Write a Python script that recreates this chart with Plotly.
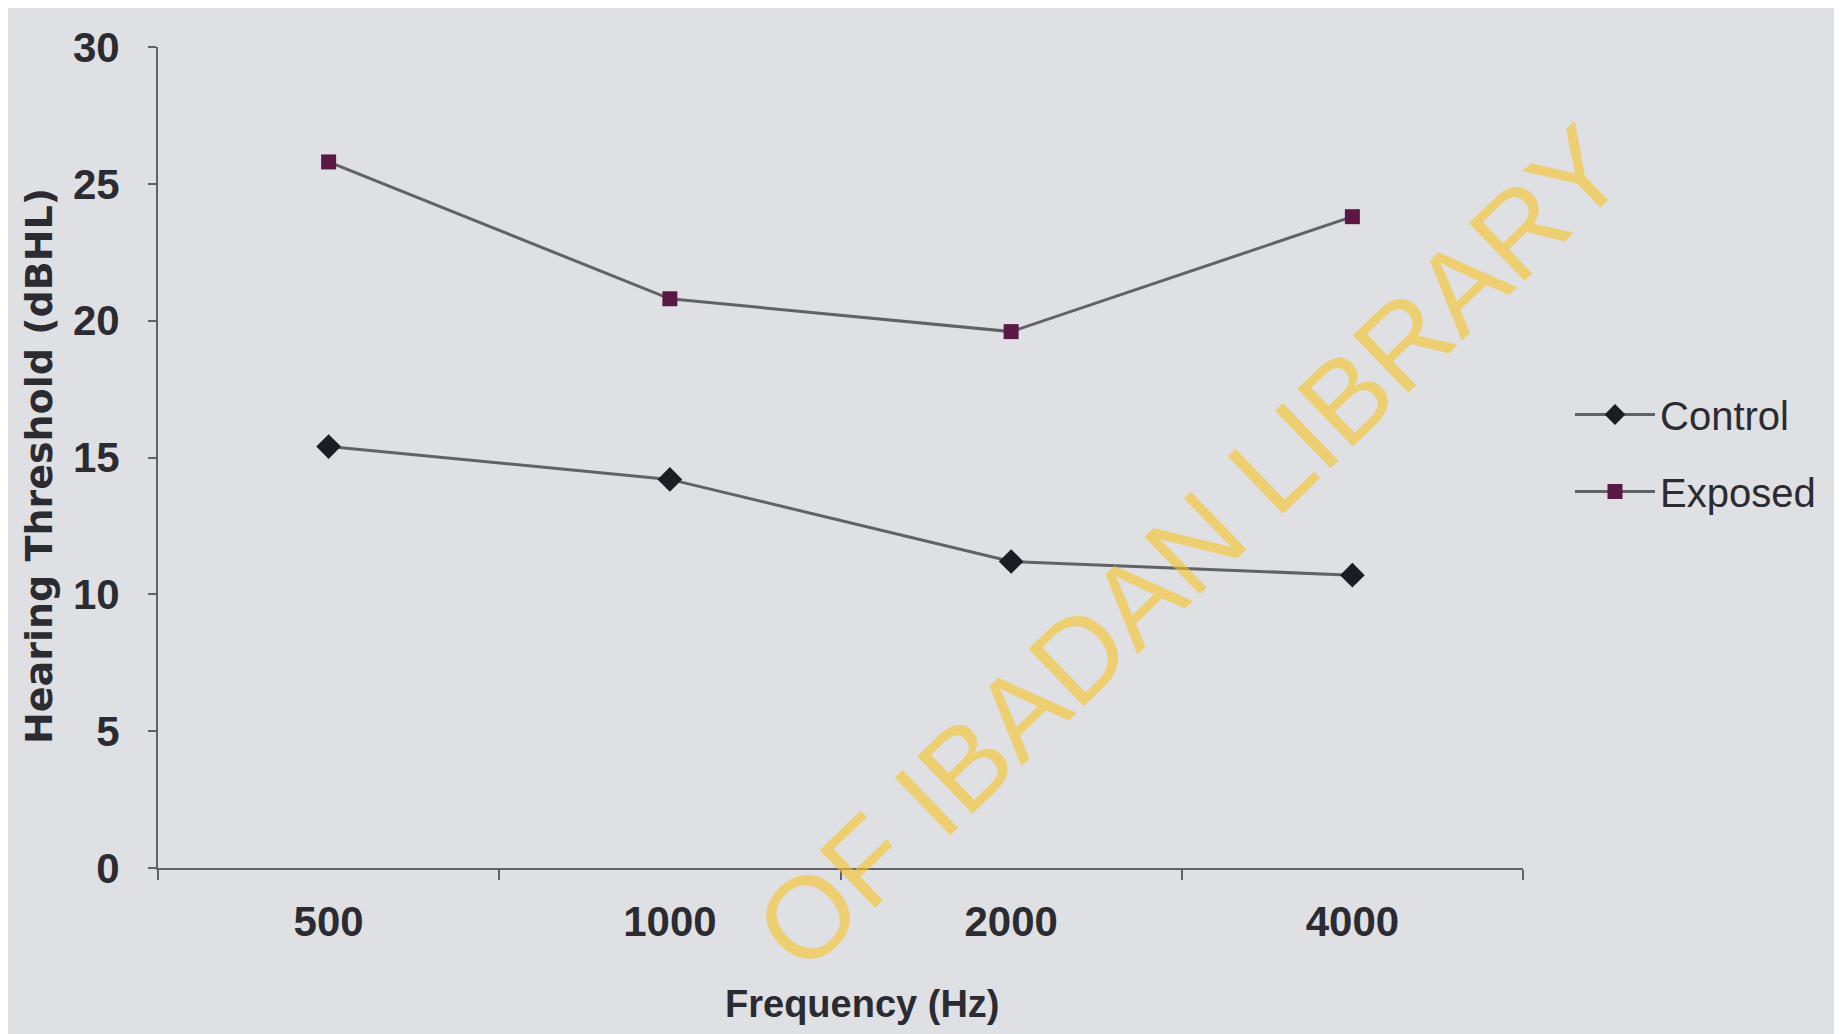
import plotly.graph_objects as go

frequencies = ["500", "1000", "2000", "4000"]
control = [15.4, 14.2, 11.2, 10.7]
exposed = [25.8, 20.8, 19.6, 23.8]
y_ticks = [0, 5, 10, 15, 20, 25, 30]

SANS = "Liberation Sans, Arial, sans-serif"
TXT = "#2b2b31"
LINE = "#626266"

L, R, T, B = 150, 327, 39, 174
PW, PH = 1842 - L - R, 1034 - T - B


def px(x):
    return (x - L) / PW


def py(y):
    return (1034 - B - y) / PH


fig = go.Figure()
fig.add_trace(go.Scatter(
    x=frequencies, y=control, name="Control", mode="lines+markers",
    line=dict(color=LINE, width=3),
    marker=dict(symbol="diamond", size=19, color="#1b1c24"),
    legendgroup="c",
))
fig.add_trace(go.Scatter(
    x=frequencies, y=exposed, name="Exposed", mode="lines+markers",
    line=dict(color=LINE, width=3),
    marker=dict(symbol="square", size=15, color="#5c1845"),
    legendgroup="e",
))

fig.update_layout(
    width=1842, height=1034,
    paper_bgcolor="#dfe0e3", plot_bgcolor="#dfe0e3",
    margin=dict(l=L, r=R, t=T, b=B),
    showlegend=True,
    legend=dict(x=px(1562), y=py(374), xanchor="left", yanchor="top",
                font=dict(family=SANS, size=40, color=TXT),
                itemwidth=80,
                tracegroupgap=22, bgcolor="rgba(0,0,0,0)"),
    font=dict(family=SANS, color=TXT),
)
fig.update_xaxes(
    type="category", range=[-0.5, 3.5], tickson="boundaries",
    showline=True, linecolor=LINE, linewidth=2,
    ticks="outside", ticklen=10, tickcolor=LINE, tickwidth=2,
    showgrid=False, zeroline=False,
    tickfont=dict(family=SANS, size=42, color=TXT, weight="bold"),
    ticklabelstandoff=16,
)
fig.update_yaxes(
    range=[0, 30], tickvals=y_ticks, ticktext=[str(v) for v in y_ticks],
    showline=True, linecolor=LINE, linewidth=2,
    ticks="outside", ticklen=8, tickcolor=LINE, tickwidth=2,
    showgrid=False, zeroline=False,
    tickfont=dict(family=SANS, size=42, color=TXT, weight="bold"),
    ticklabelstandoff=20,
)

fig.add_annotation(
    text="<b>Hearing Threshold (dBHL)</b>", xref="paper", yref="paper",
    x=px(31), y=py(458), xanchor="center", yanchor="middle",
    textangle=-90, showarrow=False,
    font=dict(family="DejaVu Sans, sans-serif", size=38, color=TXT),
)
fig.add_annotation(
    text="<b>Frequency (Hz)</b>", xref="paper", yref="paper",
    x=px(854), y=py(996), xanchor="center", yanchor="middle", showarrow=False,
    font=dict(family=SANS, size=38, color=TXT),
)
fig.add_annotation(
    text="OF IBADAN LIBRARY", xref="paper", yref="paper",
    x=px(1182), y=py(540), xanchor="center", yanchor="middle",
    textangle=-44, showarrow=False,
    font=dict(family=SANS, size=116, color="rgba(246,196,44,0.62)"),
)

fig.write_html("out.html")
